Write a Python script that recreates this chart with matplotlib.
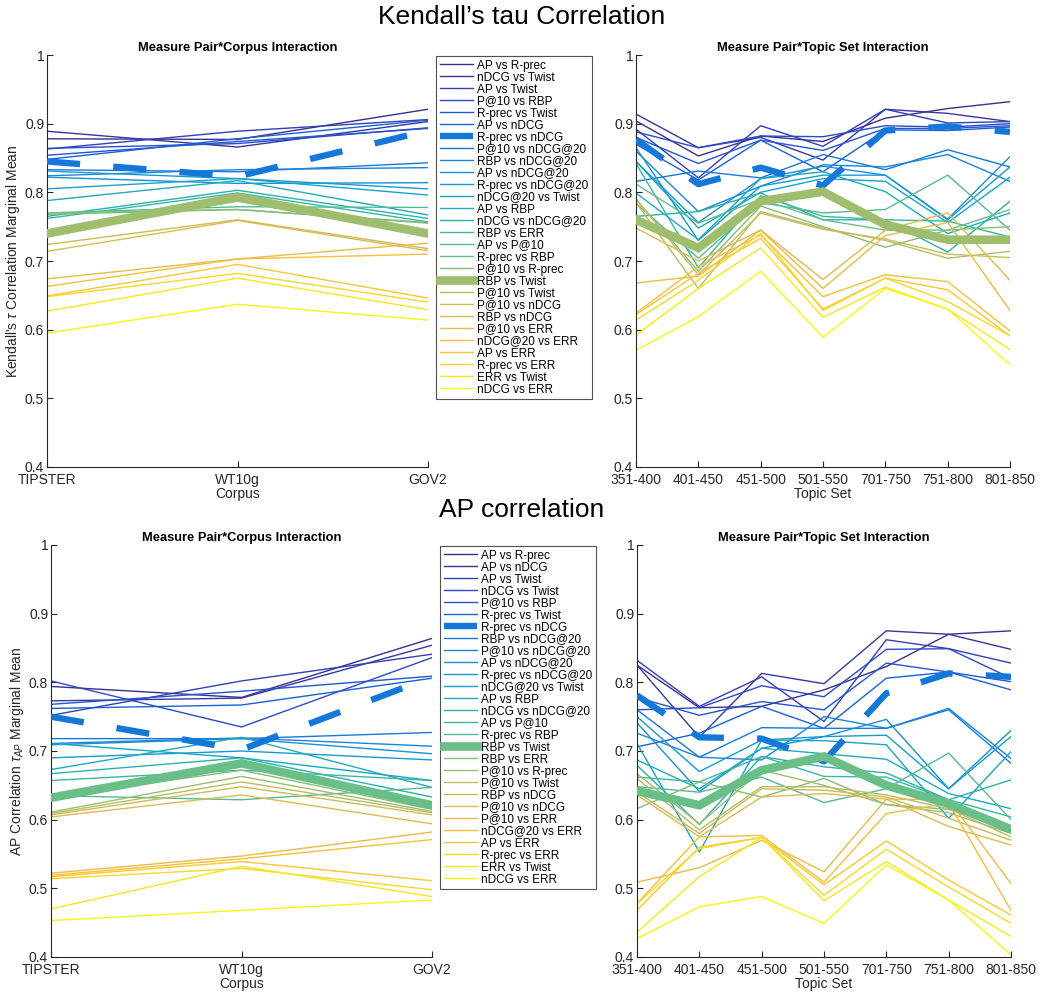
import numpy as np
import matplotlib
matplotlib.use('Agg')
import matplotlib.pyplot as plt
from matplotlib.colors import LinearSegmentedColormap

plt.rcParams['font.family'] = ['Liberation Sans', 'DejaVu Sans']
plt.rcParams['mathtext.fontset'] = 'custom'
plt.rcParams['mathtext.it'] = 'Liberation Sans:italic'
plt.rcParams['mathtext.rm'] = 'Liberation Sans'

corpora = ['TIPSTER', 'WT10g', 'GOV2']
topic_sets = ['351-400', '401-450', '451-500', '501-550', '701-750', '751-800', '801-850']

# ---- Kendall's tau ----
tau_pairs = ['AP vs R-prec', 'nDCG vs Twist', 'AP vs Twist', 'P@10 vs RBP', 'R-prec vs Twist',
             'AP vs nDCG', 'R-prec vs nDCG', 'P@10 vs nDCG@20', 'RBP vs nDCG@20', 'AP vs nDCG@20',
             'R-prec vs nDCG@20', 'nDCG@20 vs Twist', 'AP vs RBP', 'nDCG vs nDCG@20', 'RBP vs ERR',
             'AP vs P@10', 'R-prec vs RBP', 'P@10 vs R-prec', 'RBP vs Twist', 'P@10 vs Twist',
             'P@10 vs nDCG', 'RBP vs nDCG', 'P@10 vs ERR', 'nDCG@20 vs ERR', 'AP vs ERR',
             'R-prec vs ERR', 'ERR vs Twist', 'nDCG vs ERR']

tau_corpus = [
    [0.878, 0.877, 0.921], [0.889, 0.866, 0.903], [0.863, 0.889, 0.906], [0.864, 0.871, 0.894],
    [0.854, 0.874, 0.893], [0.848, 0.878, 0.905], [0.845, 0.823, 0.890], [0.833, 0.830, 0.843],
    [0.824, 0.833, 0.836], [0.822, 0.813, 0.814], [0.831, 0.820, 0.805], [0.805, 0.820, 0.796],
    [0.788, 0.817, 0.767], [0.765, 0.803, 0.762], [0.762, 0.799, 0.757], [0.770, 0.779, 0.778],
    [0.768, 0.775, 0.756], [0.770, 0.775, 0.755], [0.740, 0.793, 0.740], [0.744, 0.787, 0.738],
    [0.724, 0.760, 0.718], [0.714, 0.759, 0.715], [0.674, 0.703, 0.726], [0.663, 0.703, 0.710],
    [0.649, 0.695, 0.646], [0.648, 0.682, 0.640], [0.627, 0.675, 0.629], [0.595, 0.637, 0.614]]

tau_topic = [
    [0.904, 0.853, 0.882, 0.874, 0.908, 0.922, 0.932],
    [0.914, 0.865, 0.880, 0.847, 0.921, 0.915, 0.903],
    [0.892, 0.821, 0.897, 0.867, 0.921, 0.901, 0.903],
    [0.888, 0.865, 0.882, 0.881, 0.897, 0.895, 0.900],
    [0.880, 0.842, 0.876, 0.861, 0.893, 0.893, 0.897],
    [0.870, 0.818, 0.876, 0.830, 0.891, 0.890, 0.895],
    [0.877, 0.812, 0.836, 0.810, 0.890, 0.896, 0.888],
    [0.816, 0.831, 0.821, 0.855, 0.833, 0.862, 0.837],
    [0.860, 0.772, 0.809, 0.840, 0.837, 0.855, 0.816],
    [0.845, 0.756, 0.820, 0.838, 0.825, 0.761, 0.852],
    [0.865, 0.730, 0.809, 0.825, 0.825, 0.760, 0.837],
    [0.845, 0.748, 0.800, 0.820, 0.816, 0.756, 0.822],
    [0.799, 0.731, 0.820, 0.830, 0.801, 0.740, 0.770],
    [0.765, 0.772, 0.799, 0.760, 0.760, 0.713, 0.787],
    [0.842, 0.690, 0.795, 0.765, 0.760, 0.758, 0.735],
    [0.784, 0.704, 0.785, 0.770, 0.775, 0.825, 0.745],
    [0.812, 0.755, 0.790, 0.760, 0.745, 0.745, 0.775],
    [0.790, 0.685, 0.780, 0.750, 0.720, 0.745, 0.750],
    [0.760, 0.719, 0.787, 0.801, 0.753, 0.731, 0.731],
    [0.785, 0.660, 0.772, 0.748, 0.730, 0.704, 0.714],
    [0.790, 0.680, 0.770, 0.746, 0.732, 0.710, 0.705],
    [0.748, 0.700, 0.745, 0.673, 0.745, 0.770, 0.672],
    [0.668, 0.678, 0.745, 0.660, 0.737, 0.756, 0.628],
    [0.624, 0.692, 0.738, 0.648, 0.680, 0.670, 0.598],
    [0.622, 0.682, 0.733, 0.630, 0.675, 0.658, 0.591],
    [0.614, 0.672, 0.740, 0.628, 0.675, 0.641, 0.591],
    [0.592, 0.660, 0.719, 0.618, 0.662, 0.630, 0.571],
    [0.570, 0.619, 0.685, 0.589, 0.660, 0.630, 0.549]]

# ---- AP correlation ----
ap_pairs = ['AP vs R-prec', 'AP vs nDCG', 'AP vs Twist', 'nDCG vs Twist', 'P@10 vs RBP',
            'R-prec vs Twist', 'R-prec vs nDCG', 'RBP vs nDCG@20', 'P@10 vs nDCG@20', 'AP vs nDCG@20',
            'R-prec vs nDCG@20', 'nDCG@20 vs Twist', 'AP vs RBP', 'nDCG vs nDCG@20', 'AP vs P@10',
            'R-prec vs RBP', 'RBP vs Twist', 'RBP vs ERR', 'P@10 vs R-prec', 'P@10 vs Twist',
            'RBP vs nDCG', 'P@10 vs nDCG', 'P@10 vs ERR', 'nDCG@20 vs ERR', 'AP vs ERR',
            'R-prec vs ERR', 'ERR vs Twist', 'nDCG vs ERR']

ap_corpus = [
    [0.794, 0.778, 0.864], [0.773, 0.777, 0.854], [0.752, 0.802, 0.841], [0.802, 0.735, 0.836],
    [0.768, 0.787, 0.809], [0.762, 0.767, 0.806], [0.750, 0.702, 0.808], [0.718, 0.718, 0.727],
    [0.711, 0.719, 0.707], [0.709, 0.718, 0.696], [0.690, 0.700, 0.687], [0.711, 0.690, 0.657],
    [0.673, 0.720, 0.647], [0.667, 0.690, 0.633], [0.657, 0.672, 0.657], [0.635, 0.629, 0.647],
    [0.632, 0.682, 0.621], [0.633, 0.672, 0.615], [0.611, 0.663, 0.612], [0.609, 0.655, 0.610],
    [0.607, 0.648, 0.607], [0.604, 0.636, 0.594], [0.522, 0.547, 0.582], [0.519, 0.543, 0.571],
    [0.517, 0.539, 0.511], [0.514, 0.529, 0.498], [0.470, 0.532, 0.488], [0.453, 0.468, 0.483]]

ap_topic = [
    [0.825, 0.763, 0.765, 0.789, 0.823, 0.870, 0.875],
    [0.825, 0.720, 0.813, 0.798, 0.875, 0.870, 0.848],
    [0.832, 0.765, 0.808, 0.743, 0.862, 0.849, 0.828],
    [0.760, 0.763, 0.795, 0.779, 0.848, 0.849, 0.806],
    [0.778, 0.752, 0.772, 0.760, 0.828, 0.815, 0.801],
    [0.706, 0.726, 0.765, 0.733, 0.806, 0.815, 0.789],
    [0.781, 0.720, 0.718, 0.685, 0.784, 0.813, 0.808],
    [0.760, 0.691, 0.734, 0.733, 0.733, 0.760, 0.682],
    [0.726, 0.691, 0.687, 0.750, 0.733, 0.762, 0.689],
    [0.741, 0.641, 0.704, 0.721, 0.746, 0.645, 0.730],
    [0.750, 0.670, 0.716, 0.721, 0.723, 0.645, 0.721],
    [0.711, 0.553, 0.716, 0.715, 0.709, 0.602, 0.699],
    [0.687, 0.645, 0.704, 0.696, 0.688, 0.638, 0.616],
    [0.679, 0.593, 0.692, 0.677, 0.668, 0.629, 0.658],
    [0.662, 0.655, 0.692, 0.663, 0.662, 0.629, 0.604],
    [0.648, 0.640, 0.662, 0.625, 0.645, 0.697, 0.600],
    [0.642, 0.621, 0.672, 0.692, 0.650, 0.623, 0.586],
    [0.616, 0.655, 0.633, 0.660, 0.622, 0.615, 0.590],
    [0.667, 0.594, 0.672, 0.650, 0.622, 0.610, 0.580],
    [0.660, 0.585, 0.648, 0.648, 0.636, 0.616, 0.575],
    [0.640, 0.580, 0.645, 0.643, 0.633, 0.602, 0.570],
    [0.636, 0.575, 0.633, 0.638, 0.630, 0.590, 0.563],
    [0.509, 0.530, 0.570, 0.524, 0.630, 0.629, 0.507],
    [0.478, 0.575, 0.577, 0.509, 0.609, 0.624, 0.468],
    [0.468, 0.560, 0.574, 0.505, 0.569, 0.512, 0.461],
    [0.478, 0.558, 0.574, 0.490, 0.557, 0.502, 0.449],
    [0.436, 0.517, 0.574, 0.482, 0.539, 0.483, 0.430],
    [0.427, 0.473, 0.488, 0.449, 0.534, 0.483, 0.403]]

highlight_dash = 'R-prec vs nDCG'
highlight_solid = 'RBP vs Twist'

# parula-like colour ramp
parula = LinearSegmentedColormap.from_list('parula', [
    (0.00, '#3a2f8c'), (0.10, '#3046c8'), (0.20, '#1565dc'), (0.30, '#1a86d8'),
    (0.40, '#14a3cc'), (0.50, '#2db4a8'), (0.60, '#6fbf84'), (0.70, '#b5bd62'),
    (0.80, '#e8b84a'), (0.88, '#fcc232'), (1.00, '#f7f512')])

W, H = 1044, 994
fig = plt.figure(figsize=(W / 100, H / 100), dpi=100)


def px_axes(left, top, right, bottom):
    return fig.add_axes([left / W, 1 - bottom / H, (right - left) / W, (bottom - top) / H])


def draw(ax, labels, data, cats, title, xlabel, ylabel=None):
    n = len(labels)
    x = np.arange(len(cats))
    handles = []
    for i, (lab, vals) in enumerate(zip(labels, data)):
        c = parula(i / (n - 1))
        if lab == highlight_dash:
            h, = ax.plot(x, vals, color='#1578d8', lw=4.6, label=lab,
                         linestyle=(0, (5.2, 5.2)), dash_capstyle='butt', zorder=3)
        elif lab == highlight_solid:
            h, = ax.plot(x, vals, color=c, lw=6.2, label=lab, zorder=3,
                         solid_joinstyle='miter')
        else:
            h, = ax.plot(x, vals, color=c, lw=1.0, label=lab, zorder=2)
        handles.append(h)
    ax.set_xlim(0, len(cats) - 1)
    ax.set_ylim(0.4, 1)
    ax.set_xticks(x)
    ax.set_xticklabels(cats)
    ax.set_yticks([0.4, 0.5, 0.6, 0.7, 0.8, 0.9, 1])
    ax.set_yticklabels(['0.4', '0.5', '0.6', '0.7', '0.8', '0.9', '1'])
    ax.tick_params(direction='in', length=4, width=0.8, labelsize=10, colors='#262626')
    ax.tick_params(axis='y', pad=2)
    ax.tick_params(axis='x', pad=4)
    for s in ['top', 'right']:
        ax.spines[s].set_visible(False)
    for s in ['left', 'bottom']:
        ax.spines[s].set_color('#262626')
        ax.spines[s].set_linewidth(0.8)
    ax.set_title(title, fontsize=9.3, fontweight='bold', pad=3)
    ax.set_xlabel(xlabel, fontsize=10, labelpad=0, color='#262626')
    if ylabel:
        ax.set_ylabel(ylabel, fontsize=10, labelpad=2, color='#262626')
    return handles


ax1 = px_axes(47, 55, 428, 467)
h1 = draw(ax1, tau_pairs, tau_corpus, corpora, 'Measure Pair*Corpus Interaction', 'Corpus',
          "Kendall's $\\tau$ Correlation Marginal Mean")
ax2 = px_axes(636, 55, 1010, 467)
draw(ax2, tau_pairs, tau_topic, topic_sets, 'Measure Pair*Topic Set Interaction', 'Topic Set')
ax3 = px_axes(51, 545, 432, 957)
h3 = draw(ax3, ap_pairs, ap_corpus, corpora, 'Measure Pair*Corpus Interaction', 'Corpus',
          'AP Correlation $\\tau_{AP}$ Marginal Mean')
ax4 = px_axes(637, 545, 1011, 957)
draw(ax4, ap_pairs, ap_topic, topic_sets, 'Measure Pair*Topic Set Interaction', 'Topic Set')

for handles, (lx, ly) in [(h1, (436, 56)), (h3, (440, 546))]:
    leg = fig.legend(handles=handles, loc='upper left', bbox_to_anchor=(lx / W, 1 - ly / H),
                     fontsize=8.5, frameon=True, fancybox=False, edgecolor='#262626',
                     handlelength=2.8, handletextpad=0.4, labelspacing=0.0,
                     borderpad=0.3, borderaxespad=0)
    leg.get_frame().set_linewidth(0.8)

fig.text(0.5, 1 - 17 / H, 'Kendall’s tau Correlation', ha='center', va='center', fontsize=19)
fig.text(0.5, 1 - 510 / H, 'AP correlation', ha='center', va='center', fontsize=19)

fig.savefig('out.png', dpi=100)
